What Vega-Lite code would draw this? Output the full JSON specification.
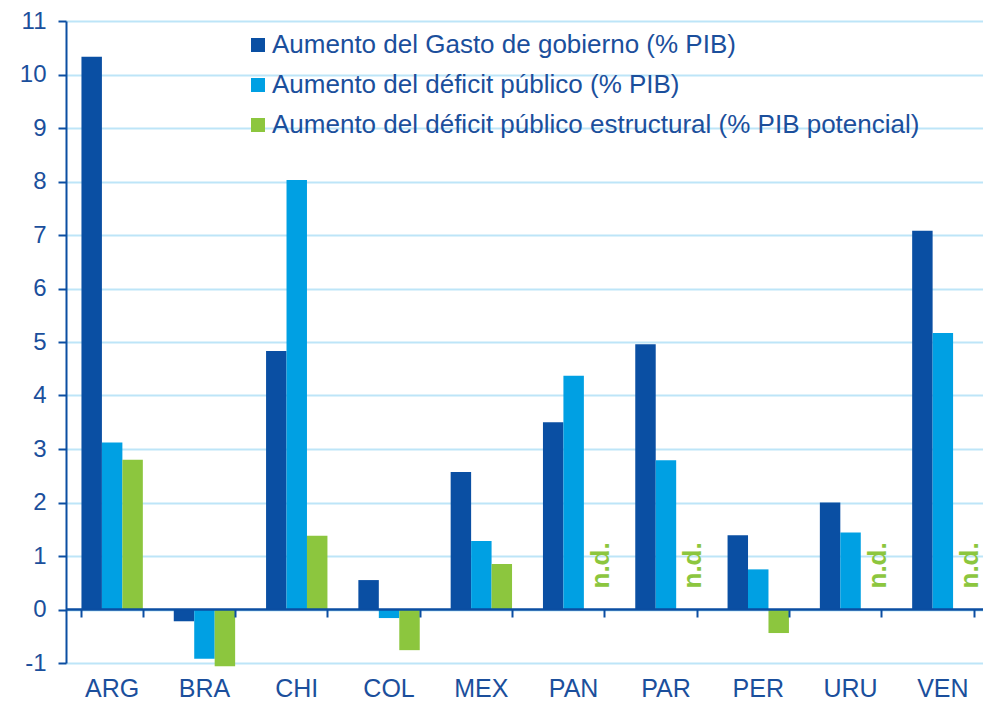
{
  "$schema": "https://vega.github.io/schema/vega-lite/v6.json",
  "width": 917,
  "height": 642,
  "autosize": {"type": "none"},
  "padding": {"left": 66, "top": 21, "right": 0, "bottom": 42},
  "background": "white",
  "config": {"view": {"stroke": null}, "font": "Liberation Sans"},
  "data": {
    "values": [
      {"pais": "ARG", "serie": "Aumento del Gasto de gobierno (% PIB)", "valor": 10.33, "etiqueta": null},
      {"pais": "ARG", "serie": "Aumento del déficit público (% PIB)", "valor": 3.12, "etiqueta": null},
      {"pais": "ARG", "serie": "Aumento del déficit público estructural (% PIB potencial)", "valor": 2.8, "etiqueta": null},
      {"pais": "BRA", "serie": "Aumento del Gasto de gobierno (% PIB)", "valor": -0.22, "etiqueta": null},
      {"pais": "BRA", "serie": "Aumento del déficit público (% PIB)", "valor": -0.92, "etiqueta": null},
      {"pais": "BRA", "serie": "Aumento del déficit público estructural (% PIB potencial)", "valor": -1.06, "etiqueta": null},
      {"pais": "CHI", "serie": "Aumento del Gasto de gobierno (% PIB)", "valor": 4.83, "etiqueta": null},
      {"pais": "CHI", "serie": "Aumento del déficit público (% PIB)", "valor": 8.03, "etiqueta": null},
      {"pais": "CHI", "serie": "Aumento del déficit público estructural (% PIB potencial)", "valor": 1.38, "etiqueta": null},
      {"pais": "COL", "serie": "Aumento del Gasto de gobierno (% PIB)", "valor": 0.55, "etiqueta": null},
      {"pais": "COL", "serie": "Aumento del déficit público (% PIB)", "valor": -0.16, "etiqueta": null},
      {"pais": "COL", "serie": "Aumento del déficit público estructural (% PIB potencial)", "valor": -0.76, "etiqueta": null},
      {"pais": "MEX", "serie": "Aumento del Gasto de gobierno (% PIB)", "valor": 2.57, "etiqueta": null},
      {"pais": "MEX", "serie": "Aumento del déficit público (% PIB)", "valor": 1.28, "etiqueta": null},
      {"pais": "MEX", "serie": "Aumento del déficit público estructural (% PIB potencial)", "valor": 0.85, "etiqueta": null},
      {"pais": "PAN", "serie": "Aumento del Gasto de gobierno (% PIB)", "valor": 3.5, "etiqueta": null},
      {"pais": "PAN", "serie": "Aumento del déficit público (% PIB)", "valor": 4.37, "etiqueta": null},
      {"pais": "PAN", "serie": "Aumento del déficit público estructural (% PIB potencial)", "valor": null, "etiqueta": "n.d."},
      {"pais": "PAR", "serie": "Aumento del Gasto de gobierno (% PIB)", "valor": 4.96, "etiqueta": null},
      {"pais": "PAR", "serie": "Aumento del déficit público (% PIB)", "valor": 2.79, "etiqueta": null},
      {"pais": "PAR", "serie": "Aumento del déficit público estructural (% PIB potencial)", "valor": null, "etiqueta": "n.d."},
      {"pais": "PER", "serie": "Aumento del Gasto de gobierno (% PIB)", "valor": 1.39, "etiqueta": null},
      {"pais": "PER", "serie": "Aumento del déficit público (% PIB)", "valor": 0.75, "etiqueta": null},
      {"pais": "PER", "serie": "Aumento del déficit público estructural (% PIB potencial)", "valor": -0.44, "etiqueta": null},
      {"pais": "URU", "serie": "Aumento del Gasto de gobierno (% PIB)", "valor": 2.0, "etiqueta": null},
      {"pais": "URU", "serie": "Aumento del déficit público (% PIB)", "valor": 1.44, "etiqueta": null},
      {"pais": "URU", "serie": "Aumento del déficit público estructural (% PIB potencial)", "valor": null, "etiqueta": "n.d."},
      {"pais": "VEN", "serie": "Aumento del Gasto de gobierno (% PIB)", "valor": 7.08, "etiqueta": null},
      {"pais": "VEN", "serie": "Aumento del déficit público (% PIB)", "valor": 5.17, "etiqueta": null},
      {"pais": "VEN", "serie": "Aumento del déficit público estructural (% PIB potencial)", "valor": null, "etiqueta": "n.d."}
    ]
  },
  "layer": [
    {
      "mark": {"type": "bar"},
      "transform": [{"filter": "datum.valor != null"}],
      "encoding": {
        "x": {
          "field": "pais", "type": "nominal", "sort": null,
          "scale": {"range": [0, 923], "paddingInner": 0.335, "paddingOuter": 0.1675},
          "axis": {"title": null, "orient": "bottom", "domain": false, "ticks": false, "grid": false, "labelAngle": 0, "labelFontSize": 25, "labelColor": "#1b4f9c", "labelPadding": 13}
        },
        "xOffset": {
          "field": "serie", "type": "nominal",
          "sort": ["Aumento del Gasto de gobierno (% PIB)", "Aumento del déficit público (% PIB)", "Aumento del déficit público estructural (% PIB potencial)"],
          "scale": {"paddingInner": 0, "paddingOuter": 0}
        },
        "y": {
          "field": "valor", "type": "quantitative",
          "scale": {"domain": [-1, 11], "nice": false, "zero": false},
          "axis": {"title": null, "values": [-1, 0, 1, 2, 3, 4, 5, 6, 7, 8, 9, 10, 11], "labelExpr": "'' + datum.value", "grid": true, "gridColor": "#bde5f8", "gridWidth": 2, "domainColor": "#0b4ea2", "domainWidth": 2, "tickColor": "#0b4ea2", "tickSize": 8, "tickWidth": 2, "labelColor": "#1b4f9c", "labelFontSize": 24, "labelPadding": 12}
        },
        "color": {
          "field": "serie", "type": "nominal",
          "scale": {
            "domain": ["Aumento del Gasto de gobierno (% PIB)", "Aumento del déficit público (% PIB)", "Aumento del déficit público estructural (% PIB potencial)"],
            "range": ["#0a4fa3", "#00a0e3", "#8cc63e"]
          },
          "legend": {"title": null, "orient": "none", "legendX": 179, "legendY": 11, "padding": 0, "symbolType": "square", "symbolSize": 196, "symbolStrokeWidth": 0, "labelFontSize": 26, "labelColor": "#1b4f9c", "labelLimit": 900, "labelOffset": 1, "rowPadding": 14}
        }
      }
    },
    {
      "mark": {"type": "text", "angle": 270, "align": "left", "baseline": "alphabetic", "dx": 21, "dy": 15, "fontSize": 26, "fontWeight": "bold", "color": "#8cc63e"},
      "transform": [{"filter": "datum.etiqueta != null"}],
      "encoding": {
        "x": {
          "field": "pais", "type": "nominal", "sort": null,
          "axis": {"title": null, "orient": "bottom", "offset": -54, "labels": false, "grid": false, "domain": true, "domainColor": "#0b4ea2", "domainWidth": 2.5, "ticks": true, "tickBand": "extent", "tickColor": "#0b4ea2", "tickSize": 8, "tickWidth": 2, "zindex": 1}
        },
        "xOffset": {
          "field": "serie", "type": "nominal",
          "sort": ["Aumento del Gasto de gobierno (% PIB)", "Aumento del déficit público (% PIB)", "Aumento del déficit público estructural (% PIB potencial)"]
        },
        "y": {"datum": 0, "type": "quantitative"},
        "text": {"field": "etiqueta"}
      }
    }
  ],
  "resolve": {"axis": {"x": "independent"}}
}
